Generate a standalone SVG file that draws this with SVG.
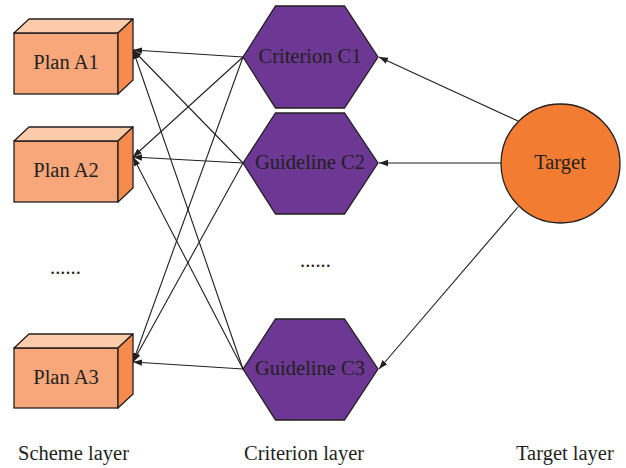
<svg xmlns="http://www.w3.org/2000/svg" width="626" height="468" viewBox="0 0 626 468">
<style>
text{font-family:"Liberation Serif","Times New Roman",serif;font-size:20.5px;fill:#231F20}
.c{text-anchor:middle}
.front{fill:#F8A77A;stroke:#231F20;stroke-width:1.3}
.top{fill:#FCCBAA;stroke:#231F20;stroke-width:1.3;stroke-linejoin:round}
.side{fill:#F58B4C;stroke:#231F20;stroke-width:1.3;stroke-linejoin:round}
.hex{fill:#6C3894;stroke:#231F20;stroke-width:1.3}
.tgt{fill:#F27C31;stroke:#231F20;stroke-width:1.3}
.edge{stroke:#231F20;stroke-width:1.1;fill:none;marker-end:url(#ah)}
</style>
<defs>
<marker id="ah" markerUnits="userSpaceOnUse" markerWidth="10" markerHeight="8" refX="9" refY="4" orient="auto">
<path d="M0,0.8 L9,4 L0,7.2 Z" fill="#231F20"/>
</marker>
</defs>
<g id="connectors">
<line class="edge" x1="243" y1="57" x2="133" y2="50"/>
<line class="edge" x1="243" y1="163" x2="133" y2="50"/>
<line class="edge" x1="243" y1="369" x2="133" y2="50"/>
<line class="edge" x1="243" y1="57" x2="133" y2="157"/>
<line class="edge" x1="243" y1="163" x2="133" y2="157"/>
<line class="edge" x1="243" y1="369" x2="133" y2="157"/>
<line class="edge" x1="243" y1="57" x2="133" y2="362"/>
<line class="edge" x1="243" y1="163" x2="133" y2="362"/>
<line class="edge" x1="243" y1="369" x2="133" y2="362"/>
<line class="edge" x1="518" y1="121" x2="379" y2="57"/>
<line class="edge" x1="501" y1="163" x2="379" y2="163"/>
<line class="edge" x1="518" y1="207" x2="379" y2="369"/>
</g>
<g id="planA1">
<rect class="front" x="14" y="33" width="104" height="61"/>
<polygon class="top" points="14,33 29,19 133,19 118,33"/>
<polygon class="side" points="118,33 133,19 133,80 118,94"/>
<text class="c" x="66" y="69">Plan A1</text>
</g>
<g id="planA2">
<rect class="front" x="14" y="141" width="104" height="61"/>
<polygon class="top" points="14,141 29,127 133,127 118,141"/>
<polygon class="side" points="118,141 133,127 133,188 118,202"/>
<text class="c" x="66" y="177">Plan A2</text>
</g>
<g id="planA3">
<rect class="front" x="14" y="348" width="104" height="60"/>
<polygon class="top" points="14,348 29,334 133,334 118,348"/>
<polygon class="side" points="118,348 133,334 133,394 118,408"/>
<text class="c" x="66" y="384">Plan A3</text>
</g>
<g id="dots1"><text x="50" y="274">......</text></g>
<g id="criterionC1">
<polygon class="hex" points="243,57 275.5,6 344.5,6 378,57 344.5,108 275.5,108"/>
<text class="c" x="310" y="63">Criterion C1</text>
</g>
<g id="guidelineC2">
<polygon class="hex" points="243,163 275.5,113 344.5,113 378,163 344.5,214 275.5,214"/>
<text class="c" x="310" y="169">Guideline C2</text>
</g>
<g id="dots2"><text x="300" y="267">......</text></g>
<g id="guidelineC3">
<polygon class="hex" points="243,369 275.5,319 344.5,319 378,369 344.5,420 275.5,420"/>
<text class="c" x="310" y="375">Guideline C3</text>
</g>
<g id="target">
<circle class="tgt" cx="560.5" cy="163.5" r="59.5"/>
<text class="c" x="560" y="169">Target</text>
</g>
<g id="labels">
<text x="18" y="460">Scheme layer</text>
<text x="244" y="460">Criterion layer</text>
<text x="516" y="460">Target layer</text>
</g>
</svg>
